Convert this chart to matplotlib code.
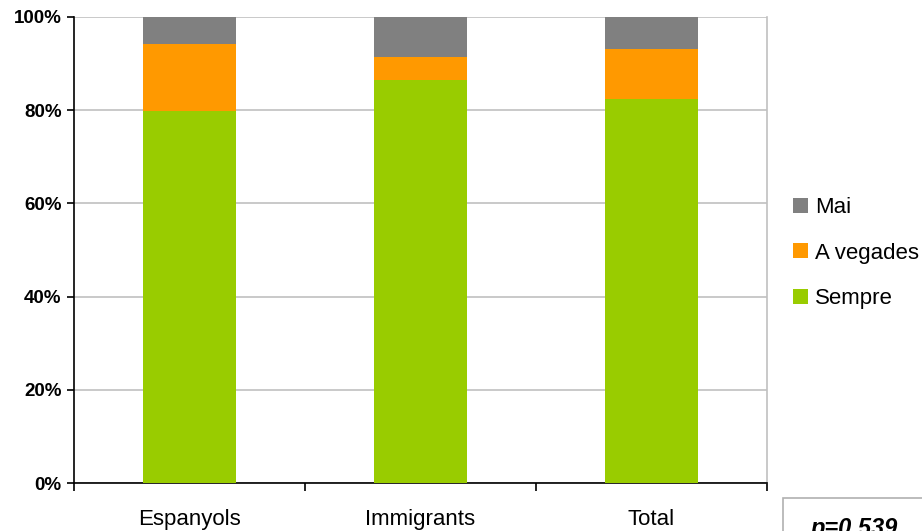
import matplotlib
matplotlib.use('Agg')
import numpy as np
import matplotlib.pyplot as plt
from matplotlib.patches import Rectangle
from matplotlib.ticker import FuncFormatter

plt.rcParams['font.family'] = ['Liberation Sans', 'DejaVu Sans']

categories = ['Espanyols', 'Immigrants', 'Total']
sempre = [79.8, 86.5, 82.4]
a_vegades = [14.4, 4.9, 10.7]
mai = [5.8, 8.6, 6.9]
p_label = 'p=0.539'

green = '#99CC00'
orange = '#FF9900'
grey = '#808080'

fig = plt.figure(figsize=(9.22, 5.31), dpi=100)
ax = fig.add_axes([74/922, 48/531, (767-74)/922, (483-17)/531])

x = np.arange(len(categories))
sempre = np.array(sempre)
a_vegades = np.array(a_vegades)
mai = np.array(mai)

b1 = ax.bar(x, sempre, width=0.4, color=green, label='Sempre', zorder=3)
b2 = ax.bar(x, a_vegades, width=0.4, bottom=sempre, color=orange, label='A vegades', zorder=3)
b3 = ax.bar(x, mai, width=0.4, bottom=sempre + a_vegades, color=grey, label='Mai', zorder=3)

ax.set_xlim(-0.5, len(categories) - 0.5)
ax.set_ylim(0, 100)
ax.set_yticks(np.arange(0, 101, 20))
ax.yaxis.set_major_formatter(FuncFormatter(lambda v, p: '%d%%' % v))
for lbl in ax.get_yticklabels():
    lbl.set_fontweight('bold')
ax.tick_params(axis='y', labelsize=13.5, length=5, width=1.2, direction='out', pad=4)
ax.grid(axis='y', color='#c0c0c0', linewidth=1.2, zorder=0)

# category ticks at boundaries, labels centered
ax.set_xticks(np.arange(-0.5, len(categories), 1))
ax.set_xticklabels([])
ax.set_xticks(x, minor=True)
ax.set_xticklabels(categories, minor=True, fontsize=16)
ax.tick_params(axis='x', which='major', length=6, width=1.2, direction='out')
ax.tick_params(axis='x', which='minor', length=0, pad=19)

for s in ['left', 'bottom']:
    ax.spines[s].set_color('black')
    ax.spines[s].set_linewidth(1.2)
ax.spines['top'].set_visible(False)
ax.spines['right'].set_color('#c0c0c0')
ax.spines['right'].set_linewidth(1.2)

fig.legend(handles=[b3, b2, b1], loc='center left',
           bbox_to_anchor=(793/922, (531-253)/531), frameon=False,
           fontsize=16, handlelength=0.68, handleheight=0.68,
           handletextpad=0.3, labelspacing=1.1, borderpad=0,
           borderaxespad=0)

fig.patches.append(Rectangle((783/922, -0.1), 0.3, (531-498)/531 + 0.1,
                             transform=fig.transFigure, facecolor='white',
                             edgecolor='#b0b0b0', linewidth=1.2))
fig.text(854/922, (531-517)/531, p_label, ha='center', va='top',
         fontsize=17, fontweight='bold', fontstyle='italic')

fig.savefig('out.png', dpi=100)
